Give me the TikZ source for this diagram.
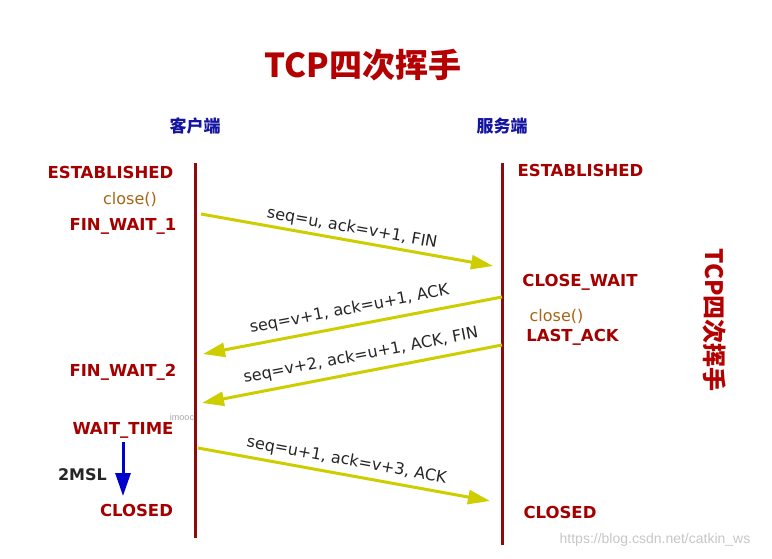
\documentclass[tikz,border=0pt]{standalone}
\usepackage{fontspec}
\setmainfont{DejaVu Sans}
\newfontfamily\cjkfont{Noto Sans CJK SC}
\newfontfamily\urlfont{Liberation Sans}
\usetikzlibrary{arrows.meta}
\definecolor{statered}{RGB}{165,0,0}
\definecolor{linered}{RGB}{140,12,12}
\definecolor{titlered}{RGB}{180,0,0}
\definecolor{msgyellow}{RGB}{205,205,0}
\definecolor{sideblue}{RGB}{20,20,160}
\definecolor{arrowblue}{RGB}{0,0,205}
\definecolor{callbrown}{RGB}{170,100,20}
\begin{document}
\begin{tikzpicture}[x=1pt,y=-1pt,
  statelbl/.style={text=statered, font=\fontsize{16.5}{18}\selectfont\bfseries, inner sep=0pt, anchor=base},
  calllbl/.style={text=callbrown, font=\fontsize{16}{18}\selectfont, inner sep=0pt, anchor=base},
  sidelbl/.style={text=sideblue, font=\cjkfont\fontsize{17}{20}\selectfont\bfseries, inner sep=0pt},
  lifeline/.style={draw=linered, line width=3pt},
  msgr/.style={draw=msgyellow, line width=3pt, -{Triangle[length=22pt,width=14pt]}},
  msgl/.style={draw=msgyellow, line width=3pt, {Triangle[length=22pt,width=14pt]}-},
  msglbl/.style={font=\fontsize{16}{18}\selectfont, sloped, inner sep=0pt, text=black!85}
]
\useasboundingbox (0,0) rectangle (772,559);
\fill[white] (0,0) rectangle (772,559);

% title
\node[text=titlered, font=\cjkfont\fontsize{33}{36}\selectfont\bfseries, inner sep=0pt] (title) at (363,65) {TCP四次挥手};
\node[text=titlered, font=\cjkfont\fontsize{24}{26}\selectfont\bfseries, inner sep=0pt, rotate=-90] (vtitle) at (714.5,320) {TCP四次挥手};

% sides
\node[sidelbl] (client) at (195,126) {客户端};
\node[sidelbl] (server) at (502,126) {服务端};

% lifelines
\coordinate (ltop) at (195,163);
\coordinate (lbot) at (195,538);
\coordinate (rtop) at (502,163);
\coordinate (rbot) at (502,545);
\draw[lifeline] (ltop) -- (lbot);
\draw[lifeline] (rtop) -- (rbot);

% client states
\node[statelbl] (estL) at (110.5,179) {ESTABLISHED};
\node[calllbl] (closeL) at (130,205) {close()};
\node[statelbl] (fw1) at (123,230) {FIN\_WAIT\_1};
\node[statelbl] (fw2) at (123,376) {FIN\_WAIT\_2};
\node[statelbl] (wt) at (123,434) {WAIT\_TIME};
\node[font=\fontsize{16}{18}\selectfont\bfseries, text=black!85, inner sep=0pt, anchor=base] (msl) at (82.5,480) {2MSL};
\node[statelbl] (closedL) at (136.5,516) {CLOSED};

% server states
\node[statelbl] (estR) at (580.5,177) {ESTABLISHED};
\node[statelbl] (cw) at (580,287) {CLOSE\_WAIT};
\node[calllbl] (closeR) at (556.5,321) {close()};
\node[statelbl] (la) at (572.5,341) {LAST\_ACK};
\node[statelbl] (closedR) at (560,518) {CLOSED};

% 2MSL arrow
\coordinate (mslTop) at (123,442);
\coordinate (mslBot) at (123,496);
\draw[draw=arrowblue, line width=3pt, -{Triangle[length=23pt,width=15pt]}] (mslTop) -- (mslBot);

% messages
\coordinate (m1s) at (201,214);
\coordinate (m1e) at (493,266);
\coordinate (m2s) at (502,297);
\coordinate (m2e) at (203,354);
\coordinate (m3s) at (502,345);
\coordinate (m3e) at (202,403);
\coordinate (m4s) at (198,448);
\coordinate (m4e) at (490,501);

\draw[msgr] (m1s) -- node[msglbl, above=3pt, pos=0.51] (l1) {seq=u, ack=v+1, FIN} (m1e);
\draw[msgl] (m2e) -- node[msglbl, above=7pt, pos=0.5] (l2) {seq=v+1, ack=u+1, ACK} (m2s);
\draw[msgl] (m3e) -- node[msglbl, above=7pt, pos=0.54] (l3) {seq=v+2, ack=u+1, ACK, FIN} (m3s);
\draw[msgr] (m4s) -- node[msglbl, above=5pt, pos=0.5] (l4) {seq=u+1, ack=v+3, ACK} (m4e);

% watermark texts
\node[font=\urlfont\fontsize{9}{10}\selectfont, text=black!35, inner sep=0pt] (imooc) at (182,417) {imooc};
\node[font=\urlfont\fontsize{14}{16}\selectfont, text=black!22, inner sep=0pt] (url) at (655,540) {https://blog.csdn.net/catkin\_ws};
\end{tikzpicture}
\end{document}
